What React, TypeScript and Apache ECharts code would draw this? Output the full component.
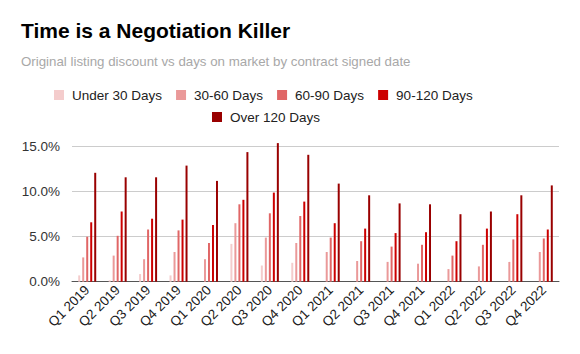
import React, { useEffect, useRef } from "react";
import * as echarts from "echarts";

const categories = [
  "Q1 2019", "Q2 2019", "Q3 2019", "Q4 2019",
  "Q1 2020", "Q2 2020", "Q3 2020", "Q4 2020",
  "Q1 2021", "Q2 2021", "Q3 2021", "Q4 2021",
  "Q1 2022", "Q2 2022", "Q3 2022", "Q4 2022",
];

const seriesNames = ["Under 30 Days", "30-60 Days", "60-90 Days", "90-120 Days", "Over 120 Days"];

const under30 = [0.7, 0.15, 0.85, 0.7, 0, 4.2, 1.8, 2.1, 0, 0, 0, 0, 0, 0, 0, 0];
const d30to60 = [2.7, 2.9, 2.5, 3.3, 2.5, 6.5, 4.9, 4.3, 3.3, 2.3, 2.2, 2.0, 1.4, 1.7, 2.2, 3.3];
const d60to90 = [5.0, 5.1, 5.8, 5.7, 4.3, 8.6, 7.6, 7.3, 4.9, 4.5, 3.9, 4.1, 2.9, 4.1, 4.7, 4.8];
const d90to120 = [6.6, 7.8, 7.0, 6.9, 6.3, 9.1, 9.9, 8.9, 6.5, 5.9, 5.4, 5.5, 4.5, 5.9, 7.5, 5.8];
const over120 = [12.1, 11.6, 11.6, 12.9, 11.2, 14.4, 15.4, 14.1, 10.9, 9.6, 8.7, 8.6, 7.5, 7.8, 9.6, 10.7];

const seriesData = [under30, d30to60, d60to90, d90to120, over120];
const colors = ["#f4cccc", "#ea9999", "#e06666", "#cc0000", "#990000"];

const FONT = "'Liberation Sans', Arial, sans-serif";

export default function App() {
  const ref = useRef<HTMLDivElement>(null);

  useEffect(() => {
    if (!ref.current) return;
    const chart = echarts.init(ref.current, null, { renderer: "svg" });
    const option: any = {
      animation: false,
      backgroundColor: "#ffffff",
      color: colors,
      textStyle: { fontFamily: FONT },
      title: [
        {
          text: "Time is a Negotiation Killer",
          left: 16,
          top: 15,
          textStyle: { fontFamily: FONT, fontSize: 21, fontWeight: "bold", color: "#000000" },
        },
        {
          text: "Original listing discount vs days on market by contract signed date",
          left: 16,
          top: 50,
          textStyle: { fontFamily: FONT, fontSize: 13.3, fontWeight: "normal", color: "#a8a8a8" },
        },
      ],
      legend: [
        {
          data: seriesNames.slice(0, 4),
          left: 49,
          top: 83,
          icon: "rect",
          itemWidth: 10,
          itemHeight: 10,
          itemGap: 14,
          textStyle: { fontFamily: FONT, fontSize: 13.5, color: "#222222", padding: [0, 0, 0, 3] },
        },
        {
          data: seriesNames.slice(4),
          left: 207,
          top: 105,
          icon: "rect",
          itemWidth: 10,
          itemHeight: 10,
          itemGap: 14,
          textStyle: { fontFamily: FONT, fontSize: 13.5, color: "#222222", padding: [0, 0, 0, 3] },
        },
      ],
      grid: { left: 72, right: 21, top: 137.7, bottom: 72.3, containLabel: false },
      xAxis: {
        type: "category",
        data: categories,
        axisLine: { show: true, lineStyle: { color: "#555555", width: 1 } },
        axisTick: { show: false },
        axisLabel: {
          rotate: 45,
          margin: 6,
          interval: 0,
          fontFamily: FONT,
          fontSize: 13.5,
          color: "#1a1a1a",
        },
      },
      yAxis: {
        type: "value",
        min: 0,
        max: 16,
        interval: 5,
        axisLine: { show: false },
        axisTick: { show: false },
        splitLine: { show: true, showMaxLine: false, lineStyle: { color: "#cccccc", width: 1 } },
        axisLabel: {
          showMaxLabel: false,
          margin: 12,
          fontFamily: FONT,
          fontSize: 13.5,
          color: "#333333",
          formatter: (v: number) => (v % 5 === 0 ? v.toFixed(1) + "%" : ""),
        },
      },
      series: seriesNames.map((name, i) => ({
        name,
        type: "bar",
        data: seriesData[i],
        barWidth: 2,
        barGap: "100%",
        itemStyle: { color: colors[i] },
      })),
    };
    chart.setOption(option);
    return () => chart.dispose();
  }, []);

  return (
    <div
      ref={ref}
      style={{ position: "fixed", left: 0, top: 0, width: 580, height: 354, background: "#fff" }}
    />
  );
}
